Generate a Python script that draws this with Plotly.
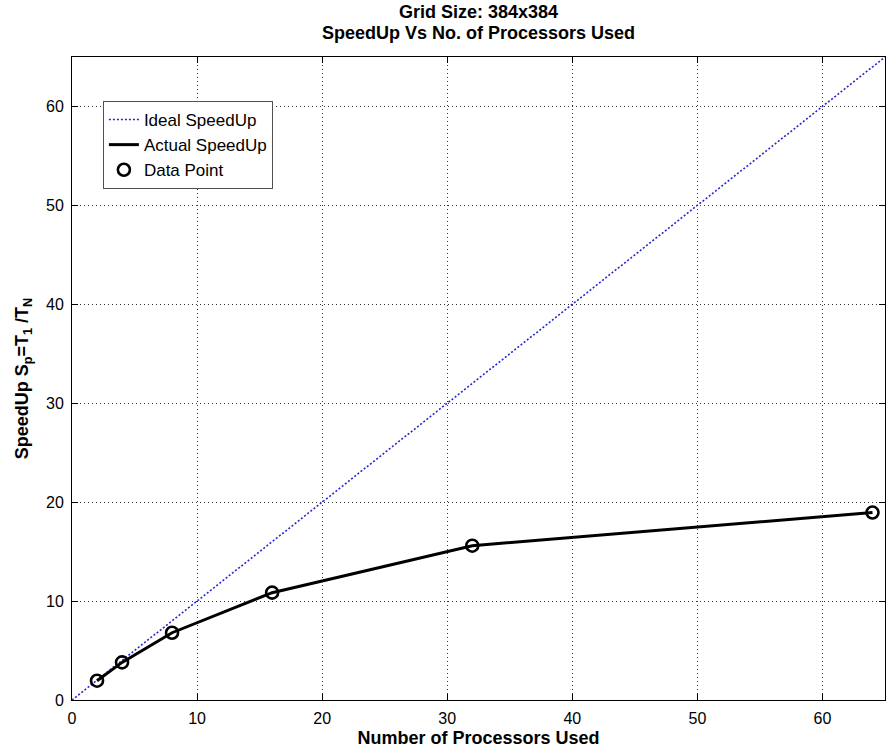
import plotly.graph_objects as go

# Data
processors = [2, 4, 8, 16, 32, 64]
speedup = [1.95, 3.8, 6.8, 10.85, 15.6, 18.95]
ideal_processors = [0, 65]
ideal_speedup = [0, 65]
x_ticks = [0, 10, 20, 30, 40, 50, 60]
y_ticks = [0, 10, 20, 30, 40, 50, 60]
title_lines = ["Grid Size: 384x384", "SpeedUp Vs No. of Processors Used"]

FONT = "Liberation Sans, Arial, sans-serif"

fig = go.Figure()
fig.add_trace(go.Scatter(x=ideal_processors, y=ideal_speedup, mode="lines",
                         name="Ideal SpeedUp",
                         line=dict(color="#2626d0", width=1.6, dash="2px,2px")))
fig.add_trace(go.Scatter(x=processors, y=speedup, mode="lines",
                         name="Actual SpeedUp",
                         line=dict(color="black", width=3)))
fig.add_trace(go.Scatter(x=processors, y=speedup, mode="markers",
                         name="Data Point",
                         marker=dict(symbol="circle-open", size=12, color="black",
                                     line=dict(color="black", width=2.6))))

axis_common = dict(
    showline=True, linecolor="black", linewidth=1, mirror="ticks",
    ticks="inside", ticklen=6, tickcolor="black",
    showgrid=True, gridcolor="#333333", gridwidth=1, griddash="1px,3px",
    zeroline=False,
    tickfont=dict(family=FONT, size=16, color="black"),
)

fig.update_layout(
    width=886, height=752,
    margin=dict(l=72, r=1, t=57, b=52),
    paper_bgcolor="white", plot_bgcolor="white",
    font=dict(family=FONT, color="black"),
    xaxis=dict(range=[0, 65], tickvals=x_ticks, ticklabelstandoff=4,
               title=dict(text="<b>Number of Processors Used</b>",
                          font=dict(family=FONT, size=18, color="black"), standoff=5),
               **axis_common),
    yaxis=dict(range=[0, 65], tickvals=y_ticks, ticklabelstandoff=4,
               title=dict(text="<b>SpeedUp S<sub>p</sub>=T<sub>1</sub> /T<sub>N</sub></b>",
                          font=dict(family=FONT, size=18, color="black"), standoff=12),
               **axis_common),
    legend=dict(x=0.038, y=0.9316, xanchor="left", yanchor="top",
                bgcolor="white", bordercolor="#505050", borderwidth=1,
                font=dict(family=FONT, size=17, color="black"),
                tracegroupgap=0, itemwidth=30),
    showlegend=True,
)

for line, shift in zip(title_lines, [45, 24]):
    fig.add_annotation(text="<b>%s</b>" % line, xref="paper", yref="paper",
                       x=0.5, y=1, xanchor="center", yanchor="middle", yshift=shift,
                       showarrow=False, font=dict(family=FONT, size=18, color="black"))

fig.write_html("out.html")
